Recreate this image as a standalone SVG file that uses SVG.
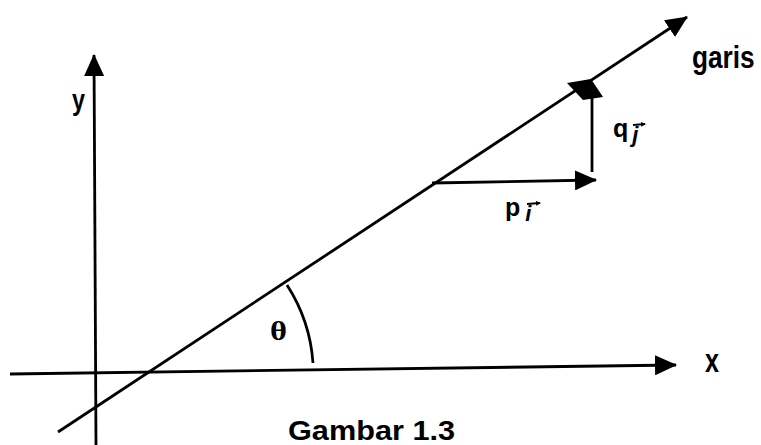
<svg xmlns="http://www.w3.org/2000/svg" width="761" height="445" viewBox="0 0 761 445">
<style>
.ln{stroke:#000;stroke-width:2.8;fill:none}
.vbar{stroke:#000;stroke-width:2;fill:none}
.lbl{font-family:"Liberation Sans",Arial,sans-serif;font-weight:bold;fill:#000}
.vec{font-family:"Liberation Sans",Arial,sans-serif;font-weight:bold;font-style:italic;fill:#000}
.th{font-family:"Liberation Serif","Times New Roman",serif;font-weight:bold;fill:#000}
</style>
<defs>
<marker id="ah" markerUnits="userSpaceOnUse" markerWidth="22" markerHeight="20" refX="21" refY="10" orient="auto">
<path d="M0,0 L22,10 L0,20 Z" fill="#000"/>
</marker>
<marker id="sh" markerUnits="userSpaceOnUse" markerWidth="5" markerHeight="5" refX="4" refY="2.5" orient="auto">
<path d="M0,0 L5,2.5 L0,5 Z" fill="#000"/>
</marker>
</defs>
<rect width="761" height="445" fill="#fff"/>
<g id="connectors">
<path id="x-axis" class="ln" d="M10,374 L676,365" marker-end="url(#ah)"/>
<path id="y-axis" class="ln" d="M96,445 L94,55" marker-end="url(#ah)"/>
<path id="garis-line" class="ln" d="M58,432 L687,17" marker-end="url(#ah)"/>
<path id="p-vector" class="ln" d="M432,183 L596,180" marker-end="url(#ah)"/>
<path id="q-vector" class="ln" d="M592,172 L592,96"/>
<path id="angle-arc" class="ln" d="M287,285 A165,165 0 0 1 313,363"/>
</g>
<g id="point">
<polygon points="567,83 591,79 603,97 583,100" fill="#000"/>
</g>
<g id="labels">
<text id="lbl-y" class="lbl" x="72" y="110" font-size="30" textLength="13" lengthAdjust="spacingAndGlyphs">y</text>
<text id="lbl-x" class="lbl" x="705" y="372" font-size="34" textLength="14" lengthAdjust="spacingAndGlyphs">x</text>
<text id="lbl-garis" class="lbl" transform="translate(692,68) scale(0.82,1)" x="0" y="0" font-size="32">garis</text>
<text id="lbl-theta" class="th" x="270" y="340" font-size="28" textLength="17" lengthAdjust="spacingAndGlyphs">θ</text>
<g id="lbl-pi">
<text x="505" y="216"><tspan class="lbl" font-size="25">p</tspan><tspan class="vec" font-size="22" dx="5" dy="5">i</tspan></text>
<path class="vbar" d="M527,204 L540,203" marker-end="url(#sh)"/>
</g>
<g id="lbl-qj">
<text x="613" y="137"><tspan class="lbl" font-size="25">q</tspan><tspan class="vec" font-size="22" dx="4" dy="5">j</tspan></text>
<path class="vbar" d="M633,125 L645,124" marker-end="url(#sh)"/>
</g>
<text id="caption" class="lbl" x="288" y="440" font-size="28" textLength="167" lengthAdjust="spacingAndGlyphs">Gambar 1.3</text>
</g>
</svg>
